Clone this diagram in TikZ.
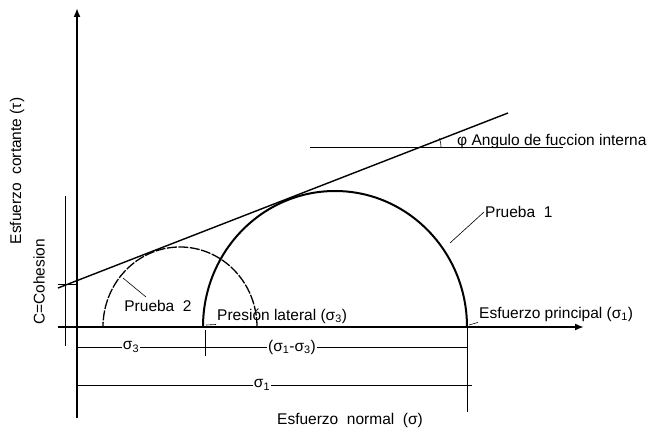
\documentclass[tikz,border=0pt]{standalone}
\usepackage{fontspec}
\setmainfont{Liberation Sans}
\usetikzlibrary{arrows.meta}
\begin{document}
\begin{tikzpicture}[x=1pt,y=-1pt,
  lbl/.style={font=\fontsize{15.5}{17}\selectfont, inner sep=1pt},
  dim/.style={line width=0.8pt},
  thin/.style={line width=0.6pt}]
\useasboundingbox (0,0) rectangle (660,435);
% axes
\coordinate (O) at (77,327);
\coordinate (ytop) at (77,8);
\coordinate (ybot) at (77,418);
\coordinate (xl) at (58,327);
\coordinate (xr) at (584,327);
\draw[line width=2pt,-{Latex[length=9pt,width=7pt]}] (ybot) -- (ytop);
\draw[line width=2.6pt,-{Latex[length=9pt,width=7pt]}] (xl) -- (xr);
% cohesion bracket
\coordinate (cb1) at (65,196);
\coordinate (cb2) at (65,346);
\draw[thin] (cb1) -- (cb2);
\coordinate (ct1) at (58,284);
\coordinate (ct2) at (77,284);
\draw[thin] (ct1) -- (ct2);
% envelope
\coordinate (e1) at (58,288);
\coordinate (e2) at (508,113);
\draw[line width=1.4pt] (e1) -- (e2);
% horizontal reference
\coordinate (h1) at (310,147);
\coordinate (h2) at (563,147);
\draw[thin] (h1) -- (h2);
\coordinate (hi) at (417,147);
\draw[thin] ([xshift=24pt]hi) arc[start angle=0,end angle=21,radius=24pt];
% circles
\draw[line width=2pt] (467,327) arc[start angle=0,end angle=180,x radius=132pt,y radius=136pt];
\draw[line width=1.3pt,dash pattern=on 10pt off 1.5pt] (257,327) arc[start angle=0,end angle=180,x radius=77pt,y radius=80pt];
% dimension lines
\coordinate (s3a) at (77,347);
\coordinate (s3b) at (205,347);
\coordinate (s13b) at (467,347);
\coordinate (s1a) at (77,385);
\coordinate (s1b) at (472,385);
\draw[dim] (s3a) -- (s13b);
\draw[dim] (s1a) -- (s1b);
\draw[thin] (205,330) -- (205,356);
\draw[thin] (467,327) -- (467,412);
\node[lbl,fill=white] (ls3) at (131,347) {σ\textsubscript{3}};
\node[lbl,fill=white] (ls13) at (292,347) {(σ\textsubscript{1}-σ\textsubscript{3})};
\node[lbl,fill=white] (ls1) at (262,385) {σ\textsubscript{1}};
% labels
\node[lbl] (xlab) at (350,420) {Esfuerzo\ \ normal\ \ (σ)};
\node[lbl,rotate=90] (ylab) at (17,171) {Esfuerzo\ \ cortante (τ)};
\node[lbl,rotate=90] (clab) at (39,282) {C=Cohesion};
\node[lbl,anchor=west] (p1) at (484,212) {Prueba\ \ 1};
\draw[thin] (450,243) -- (p1.west);
\node[lbl] (p2) at (158,306) {Prueba\ \ 2};
\draw[thin] (123,278) -- (146,297);
\node[lbl,anchor=west] (pl) at (216,316) {Presión lateral (σ\textsubscript{3})};
\draw[thin] (206,325) -- (pl.south west);
\node[lbl,anchor=west] (ep) at (478,314) {Esfuerzo principal\ (σ\textsubscript{1})};
\draw[thin] (469,325) -- (ep.south west);
\node[lbl,anchor=west] (af) at (456,141) {φ Angulo de fuccion interna};
\end{tikzpicture}
\end{document}
